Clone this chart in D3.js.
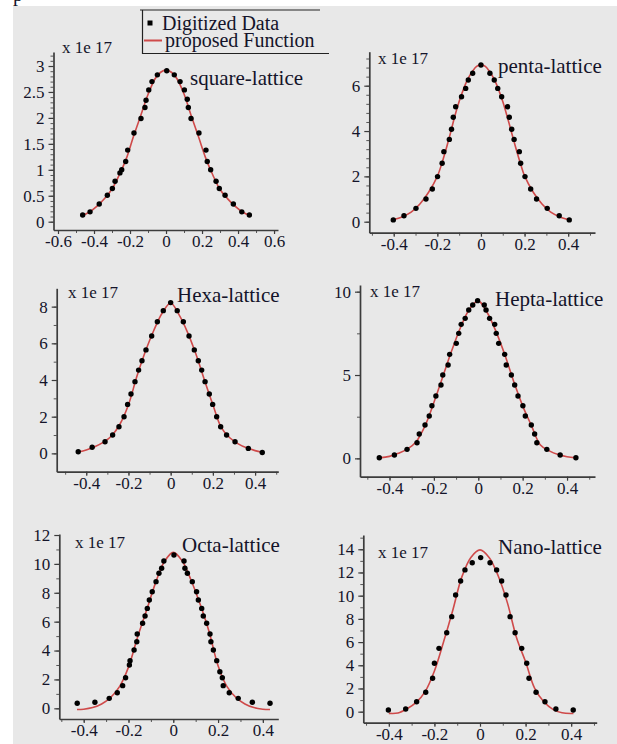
<!DOCTYPE html>
<html lang="en">
<head>
<meta charset="UTF-8">
<title>Digitized data vs proposed function</title>
<style>
  body { margin: 0; background: #fff; }
  svg text { font-family: "Liberation Serif", "Times New Roman", serif; fill: #14142a; }
  .tick text { font-family: "Liberation Serif", "Times New Roman", serif; font-size: 17px; }
</style>
</head>
<body>
<div id="chart"></div>
<script src="https://d3js.org/d3.v7.min.js"></script>
<script>

// values are in units of 1e17
var squareDots = [[-0.463,0.13],[-0.422,0.19],[-0.371,0.34],[-0.326,0.51],[-0.298,0.64],[-0.283,0.78],[-0.256,0.94],[-0.246,1.0],[-0.224,1.16],[-0.213,1.38],[-0.178,1.71],[-0.139,1.99],[-0.117,2.20],[-0.111,2.34],[-0.096,2.54],[-0.078,2.70],[-0.048,2.83],[0.004,2.91],[0.046,2.83],[0.078,2.70],[0.102,2.54],[0.118,2.36],[0.124,2.20],[0.139,1.99],[0.183,1.71],[0.222,1.38],[0.229,1.16],[0.248,1.0],[0.278,0.78],[0.296,0.64],[0.328,0.51],[0.374,0.34],[0.421,0.19],[0.463,0.13]];
var squareCurve = [[-0.463,0.12],[-0.42,0.2],[-0.38,0.31],[-0.34,0.45],[-0.3,0.63],[-0.26,0.9],[-0.22,1.22],[-0.18,1.65],[-0.14,2.05],[-0.1,2.45],[-0.06,2.76],[-0.03,2.88],[0,2.92],[0.03,2.88],[0.06,2.76],[0.1,2.46],[0.14,2.04],[0.18,1.64],[0.22,1.23],[0.26,0.9],[0.3,0.62],[0.34,0.45],[0.38,0.31],[0.42,0.2],[0.463,0.12]];

var pentaDots = [[-0.402,0.08],[-0.353,0.26],[-0.298,0.59],[-0.252,1.0],[-0.223,1.44],[-0.199,1.99],[-0.178,2.58],[-0.17,3.09],[-0.145,3.63],[-0.135,4.08],[-0.127,4.61],[-0.116,5.07],[-0.089,5.51],[-0.07,5.88],[-0.058,6.25],[-0.038,6.55],[0,6.91],[0.041,6.55],[0.061,6.25],[0.077,5.88],[0.095,5.51],[0.122,5.07],[0.13,4.61],[0.141,4.08],[0.152,3.63],[0.176,3.09],[0.182,2.58],[0.202,1.99],[0.228,1.44],[0.255,1.0],[0.304,0.59],[0.359,0.26],[0.405,0.08]];
var pentaCurve = [[-0.405,0.08],[-0.36,0.22],[-0.32,0.42],[-0.28,0.78],[-0.24,1.3],[-0.2,2.0],[-0.18,2.55],[-0.16,3.2],[-0.14,3.9],[-0.12,4.65],[-0.1,5.3],[-0.08,5.85],[-0.06,6.3],[-0.04,6.62],[-0.02,6.85],[0,6.93],[0.02,6.85],[0.04,6.62],[0.06,6.3],[0.08,5.85],[0.1,5.3],[0.12,4.65],[0.14,3.95],[0.16,3.25],[0.18,2.6],[0.2,2.02],[0.24,1.3],[0.28,0.78],[0.32,0.42],[0.36,0.22],[0.405,0.08]];

var hexaDots = [[-0.438,0.09],[-0.372,0.33],[-0.311,0.63],[-0.275,1.0],[-0.245,1.45],[-0.221,2.0],[-0.204,2.67],[-0.188,3.24],[-0.169,3.91],[-0.152,4.54],[-0.136,5.05],[-0.117,5.64],[-0.09,6.4],[-0.063,7.18],[-0.035,7.78],[0,8.22],[0.031,7.78],[0.06,7.18],[0.087,6.4],[0.112,5.64],[0.131,5.05],[0.147,4.54],[0.163,3.91],[0.183,3.24],[0.199,2.67],[0.218,2.0],[0.237,1.45],[0.265,1.0],[0.305,0.63],[0.368,0.27],[0.434,0.05]];
var hexaCurve = [[-0.438,0.07],[-0.4,0.18],[-0.36,0.36],[-0.32,0.6],[-0.28,0.95],[-0.24,1.6],[-0.2,2.65],[-0.16,4.2],[-0.12,5.55],[-0.08,6.7],[-0.04,7.65],[0,8.2],[0.04,7.55],[0.08,6.6],[0.12,5.4],[0.16,4.0],[0.2,2.65],[0.24,1.4],[0.28,0.85],[0.32,0.52],[0.36,0.3],[0.4,0.15],[0.434,0.06]];

var heptaDots = [[-0.446,0.04],[-0.378,0.2],[-0.321,0.54],[-0.276,0.94],[-0.266,1.46],[-0.24,2.0],[-0.221,2.54],[-0.209,3.16],[-0.191,3.74],[-0.168,4.4],[-0.16,5.0],[-0.136,5.6],[-0.129,6.24],[-0.099,6.9],[-0.088,7.5],[-0.077,8.04],[-0.059,8.4],[-0.043,8.9],[-0.025,9.2],[-0.003,9.46],[0.027,9.2],[0.035,8.9],[0.051,8.4],[0.074,8.04],[0.081,7.5],[0.092,6.9],[0.119,6.24],[0.126,5.6],[0.149,5.0],[0.164,4.4],[0.179,3.74],[0.201,3.16],[0.212,2.54],[0.239,2.0],[0.254,1.46],[0.264,0.94],[0.309,0.54],[0.369,0.2],[0.44,0.04]];
var heptaCurve = [[-0.446,0.03],[-0.4,0.12],[-0.36,0.3],[-0.32,0.55],[-0.28,1.0],[-0.24,1.95],[-0.2,3.35],[-0.16,4.9],[-0.12,6.45],[-0.08,7.85],[-0.04,8.95],[0,9.45],[0.04,8.75],[0.08,7.6],[0.12,6.2],[0.16,4.6],[0.2,3.15],[0.24,1.95],[0.28,0.8],[0.32,0.45],[0.36,0.23],[0.4,0.1],[0.44,0.03]];

var octaDots = [[-0.429,0.35],[-0.35,0.42],[-0.286,0.69],[-0.25,1.08],[-0.226,1.57],[-0.213,2.12],[-0.196,3.0],[-0.193,3.3],[-0.175,4.04],[-0.163,4.61],[-0.161,5.15],[-0.137,5.89],[-0.126,6.39],[-0.116,6.92],[-0.107,7.5],[-0.094,8.07],[-0.077,8.77],[-0.064,9.35],[-0.052,9.7],[-0.042,10.2],[0.003,10.62],[0.048,10.2],[0.052,9.7],[0.063,9.35],[0.085,8.77],[0.104,8.07],[0.112,7.5],[0.127,6.92],[0.134,6.39],[0.149,5.89],[0.164,5.15],[0.168,4.61],[0.179,4.04],[0.194,3.3],[0.208,2.53],[0.219,2.12],[0.223,1.57],[0.25,1.08],[0.29,0.69],[0.353,0.42],[0.432,0.35]];
var octaCurve = [[-0.43,-0.08],[-0.4,-0.06],[-0.36,0.05],[-0.32,0.3],[-0.28,0.75],[-0.24,1.5],[-0.2,2.85],[-0.16,4.9],[-0.12,6.75],[-0.08,8.65],[-0.04,10.15],[0,10.8],[0.04,10.2],[0.08,8.85],[0.12,7.2],[0.16,5.3],[0.2,2.95],[0.24,1.5],[0.28,0.75],[0.32,0.3],[0.36,0.05],[0.4,-0.06],[0.432,-0.08]];

var nanoDots = [[-0.402,0.15],[-0.326,0.23],[-0.278,0.86],[-0.238,1.67],[-0.208,2.88],[-0.2,4.17],[-0.18,5.46],[-0.146,6.81],[-0.124,8.19],[-0.107,10.06],[-0.085,11.27],[-0.066,12.22],[-0.034,12.84],[0.003,13.28],[0.044,12.84],[0.073,12.22],[0.095,11.27],[0.114,10.06],[0.132,8.19],[0.154,6.81],[0.183,5.46],[0.205,4.17],[0.215,2.88],[0.246,1.67],[0.285,0.86],[0.333,0.23],[0.409,0.15]];
var nanoCurve = [[-0.4,-0.15],[-0.36,-0.12],[-0.32,0.25],[-0.28,0.8],[-0.24,1.75],[-0.2,3.5],[-0.16,6.0],[-0.12,8.7],[-0.08,11.6],[-0.04,13.3],[0,13.95],[0.04,13.3],[0.08,11.7],[0.12,9.4],[0.16,6.4],[0.2,4.3],[0.24,2.0],[0.28,0.85],[0.32,0.2],[0.36,-0.1],[0.41,-0.15]];

// tick labels
var xTicksSquare = [-0.6, -0.4, -0.2, 0, 0.2, 0.4, 0.6];
var xTicksOther = [-0.4, -0.2, 0, 0.2, 0.4];
var yTicksSquare = [0, 0.5, 1, 1.5, 2, 2.5, 3];
var yTicksPenta = [0, 2, 4, 6];
var yTicksHexa = [0, 2, 4, 6, 8];
var yTicksHepta = [0, 5, 10];
var yTicksOcta = [0, 2, 4, 6, 8, 10, 12];
var yTicksNano = [0, 2, 4, 6, 8, 10, 12, 14];

var titles = ["square-lattice", "penta-lattice", "Hexa-lattice", "Hepta-lattice", "Octa-lattice", "Nano-lattice"];
var legendLabels = ["Digitized Data", "proposed Function"];

// layout: pixel box of the axes and the value range it covers
var panels = [
  { dots: squareDots, curve: squareCurve, xt: xTicksSquare, yt: yTicksSquare, yMinor: 0.1,
    box: [53.5, 278, 52, 230], xd: [-0.625, 0.622], yd: [-0.16, 3.27], title: [190, 85], unit: [62, 53] },
  { dots: pentaDots, curve: pentaCurve, xt: xTicksOther, yt: yTicksPenta, yMinor: 0.4,
    box: [369.3, 595, 51.7, 232.7], xd: [-0.512, 0.523], yd: [-0.485, 7.5], title: [498, 73], unit: [378, 64] },
  { dots: hexaDots, curve: hexaCurve, xt: xTicksOther, yt: yTicksHexa, yMinor: 1,
    box: [56.7, 278.3, 288.3, 471.7], xd: [-0.54, 0.51], yd: [-1.0, 9.0], title: [177, 302], unit: [68, 298] },
  { dots: heptaDots, curve: heptaCurve, xt: xTicksOther, yt: yTicksHepta, yMinor: 2.5,
    box: [360, 595, 285, 476.7], xd: [-0.533, 0.526], yd: [-1.1, 10.4], title: [495, 306], unit: [370, 297] },
  { dots: octaDots, curve: octaCurve, xt: xTicksOther, yt: yTicksOcta, yMinor: 1,
    box: [59.3, 278.3, 534, 719], xd: [-0.509, 0.469], yd: [-0.74, 12.07], title: [182, 552], unit: [75, 548] },
  { dots: nanoDots, curve: nanoCurve, xt: xTicksOther, yt: yTicksNano, yMinor: 1,
    box: [363.3, 596.7, 535, 722.7], xd: [-0.512, 0.512], yd: [-0.95, 15.23], title: [498, 554], unit: [378, 558] }
];

var svg = d3.select("#chart").append("svg")
  .attr("width", 617)
  .attr("height", 744);

// page background (grey scan area)
svg.append("rect").attr("x", 13).attr("y", 6).attr("width", 604).attr("height", 738).attr("fill", "#e8e8e8");
svg.append("text").attr("x", 13).attr("y", 1).style("font-size", "20px").text("p");

function fmt(d) { return d === 0 ? "0" : String(d); }

panels.forEach(function (p, i) {
  var x = d3.scaleLinear().domain(p.xd).range([p.box[0], p.box[1]]);
  var y = d3.scaleLinear().domain(p.yd).range([p.box[3], p.box[2]]);
  var g = svg.append("g");

  // minor ticks
  var yMin = d3.range(0, p.yd[1], p.yMinor);
  var xMin = d3.range(-0.6, p.xd[1], 0.1).filter(function (v) { return v > p.xd[0]; });
  g.append("g").attr("transform", "translate(" + p.box[0] + ",0)")
    .call(d3.axisLeft(y).tickValues(yMin).tickSize(3).tickFormat(""))
    .call(function (a) { a.select(".domain").remove(); a.selectAll("line").attr("stroke", "#555"); });
  g.append("g").attr("transform", "translate(0," + p.box[3] + ")")
    .call(d3.axisBottom(x).tickValues(xMin).tickSize(3).tickFormat(""))
    .call(function (a) { a.select(".domain").remove(); a.selectAll("line").attr("stroke", "#555"); });

  // main axes
  var ya = g.append("g").attr("transform", "translate(" + p.box[0] + ",0)")
    .call(d3.axisLeft(y).tickValues(p.yt).tickSize(5).tickSizeOuter(0).tickPadding(4).tickFormat(fmt));
  var xa = g.append("g").attr("transform", "translate(0," + p.box[3] + ")")
    .call(d3.axisBottom(x).tickValues(p.xt).tickSize(4).tickSizeOuter(0).tickPadding(1).tickFormat(fmt));
  [ya, xa].forEach(function (a) {
    a.attr("font-family", null).attr("font-size", null);
    a.select(".domain").attr("stroke", "#3c3c3c").attr("stroke-width", 1.7);
    a.selectAll(".tick line").attr("stroke", "#3c3c3c").attr("stroke-width", 1.2);
    a.selectAll(".tick text").attr("fill", "#14142a");
  });

  // proposed function
  var line = d3.line()
    .x(function (d) { return x(d[0]); })
    .y(function (d) { return y(d[1]); })
    .curve(d3.curveCatmullRom);
  g.append("path").datum(p.curve)
    .attr("fill", "none").attr("stroke", "#cf4a4a").attr("stroke-width", 1.6)
    .attr("d", line);

  g.selectAll("circle.pt").data(p.dots).enter().append("circle")
    .attr("class", "pt")
    .attr("cx", function (d) { return x(d[0]); })
    .attr("cy", function (d) { return y(d[1]); })
    .attr("r", 2.7)
    .attr("fill", "#000");

  g.append("text").attr("x", p.unit[0]).attr("y", p.unit[1]).style("font-size", "17px").text("x 1e 17");
  g.append("text").attr("x", p.title[0]).attr("y", p.title[1]).style("font-size", "21px").text(titles[i]);
});

// legend
var lg = svg.append("g");
lg.append("line").attr("x1", 140).attr("x2", 320).attr("y1", 10).attr("y2", 10).attr("stroke", "#222").attr("stroke-width", 1.2);
lg.append("line").attr("x1", 142.5).attr("x2", 142.5).attr("y1", 10).attr("y2", 54).attr("stroke", "#222").attr("stroke-width", 1.2);
lg.append("line").attr("x1", 142.5).attr("x2", 329).attr("y1", 53.5).attr("y2", 53.5).attr("stroke", "#222").attr("stroke-width", 1.2);
lg.append("rect").attr("x", 147.5).attr("y", 20.5).attr("width", 5).attr("height", 5).attr("fill", "#000");
lg.append("line").attr("x1", 144).attr("x2", 162).attr("y1", 40.5).attr("y2", 40.5).attr("stroke", "#cf4a4a").attr("stroke-width", 2);
lg.append("text").attr("x", 162).attr("y", 30).style("font-size", "20px").text(legendLabels[0]);
lg.append("text").attr("x", 165).attr("y", 47).style("font-size", "20px").text(legendLabels[1]);

</script>
</body>
</html>
